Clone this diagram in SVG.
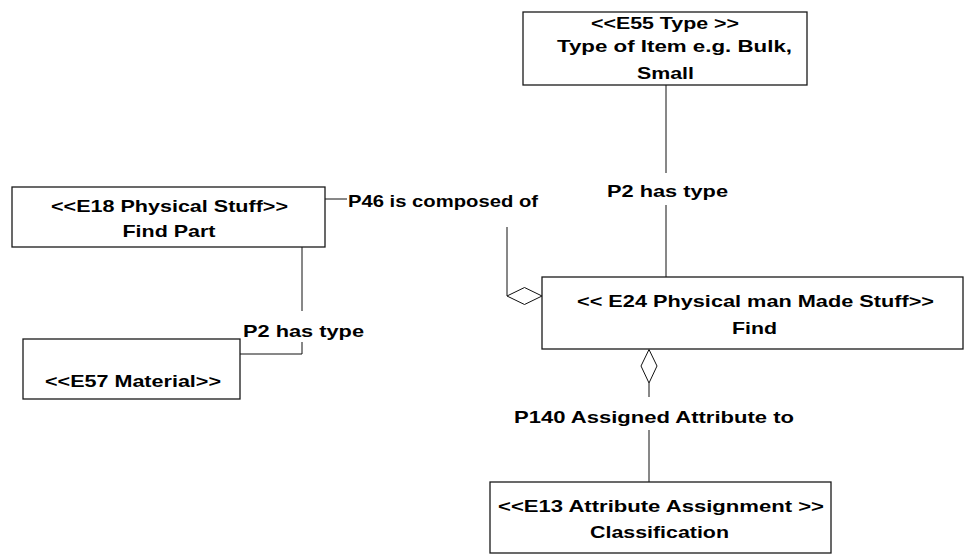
<svg xmlns="http://www.w3.org/2000/svg" width="967" height="556" viewBox="0 0 967 556">
<style>
.box{fill:#fff;stroke:#1a1a1a;stroke-width:1.3}
.t{font-family:"Liberation Sans",Arial,sans-serif;font-weight:bold;font-size:17px;fill:#000;text-anchor:middle}
.ln{fill:none;stroke:#111;stroke-width:1}
.dia{fill:#fff;stroke:#111;stroke-width:1}
</style>
<rect width="967" height="556" fill="#fff"/>
<g id="connectors">
<polyline class="ln" points="666,85 666,173"/>
<polyline class="ln" points="666,205 666,277"/>
<polyline class="ln" points="302,247 302,311"/>
<polyline class="ln" points="302,342 302,354 240,354"/>
<polyline class="ln" points="325,199 347,199"/>
<polyline class="ln" points="507,227 507,296"/>
<polygon class="dia" points="507,296 524.5,287.5 542,296 524.5,304.5"/>
<polyline class="ln" points="649,383 649,397"/>
<polyline class="ln" points="649,430 649,482"/>
<polygon class="dia" points="649,349.5 657,366 649,383 641,366"/>
<text class="t" x="667.5" y="197" textLength="121" lengthAdjust="spacingAndGlyphs">P2 has type</text>
<text class="t" x="303.5" y="337" textLength="121" lengthAdjust="spacingAndGlyphs">P2 has type</text>
<text class="t" x="443" y="207" textLength="190" lengthAdjust="spacingAndGlyphs">P46 is composed of</text>
<text class="t" x="654" y="423" textLength="280" lengthAdjust="spacingAndGlyphs">P140 Assigned Attribute to</text>
</g>
<g id="E55">
<rect class="box" x="523" y="12" width="284" height="73"/>
<text class="t" x="665" y="29" textLength="148" lengthAdjust="spacingAndGlyphs">&lt;&lt;E55 Type &gt;&gt;</text>
<text class="t" x="674.5" y="52" textLength="235" lengthAdjust="spacingAndGlyphs">Type of Item e.g. Bulk,</text>
<text class="t" x="665.5" y="79" textLength="57" lengthAdjust="spacingAndGlyphs">Small</text>
</g>
<g id="E18">
<rect class="box" x="12" y="187" width="313" height="60"/>
<text class="t" x="169.5" y="212" textLength="237" lengthAdjust="spacingAndGlyphs">&lt;&lt;E18 Physical Stuff&gt;&gt;</text>
<text class="t" x="169" y="237" textLength="93" lengthAdjust="spacingAndGlyphs">Find Part</text>
</g>
<g id="E57">
<rect class="box" x="23" y="339" width="217" height="60"/>
<text class="t" x="133" y="387" textLength="176" lengthAdjust="spacingAndGlyphs">&lt;&lt;E57 Material&gt;&gt;</text>
</g>
<g id="E24">
<rect class="box" x="542" y="277" width="421" height="72"/>
<text class="t" x="755.5" y="307" textLength="357" lengthAdjust="spacingAndGlyphs">&lt;&lt; E24 Physical man Made Stuff&gt;&gt;</text>
<text class="t" x="754.5" y="334" textLength="45" lengthAdjust="spacingAndGlyphs">Find</text>
</g>
<g id="E13">
<rect class="box" x="490" y="482" width="341" height="71"/>
<text class="t" x="661" y="512" textLength="326" lengthAdjust="spacingAndGlyphs">&lt;&lt;E13 Attribute Assignment &gt;&gt;</text>
<text class="t" x="659.5" y="538" textLength="139" lengthAdjust="spacingAndGlyphs">Classification</text>
</g>
</svg>
